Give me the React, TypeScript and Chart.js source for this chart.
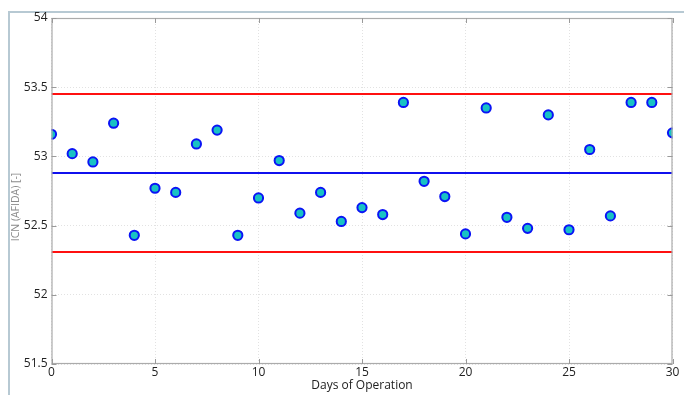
import React, { useEffect, useRef } from "react";
import { Chart, registerables } from "chart.js";

Chart.register(...registerables);

const days = [0, 1, 2, 3, 4, 5, 6, 7, 8, 9, 10, 11, 12, 13, 14, 15, 16, 17, 18, 19, 20, 21, 22, 23, 24, 25, 26, 27, 28, 29, 30];
const icnValues = [
  53.16, 53.02, 52.96, 53.24, 52.43, 52.77, 52.74, 53.09, 53.19, 52.43,
  52.70, 52.97, 52.59, 52.74, 52.53, 52.63, 52.58, 53.39, 52.82, 52.71,
  52.44, 53.35, 52.56, 52.48, 53.30, 52.47, 53.05, 52.57, 53.39, 53.39,
  53.17,
];
const upperLimit = 53.45;
const centerLine = 52.88;
const lowerLimit = 52.31;
const xRange = [0, 30];
const yRange = [51.5, 54];
const xTitle = "Days of Operation";
const yTitle = "ICN (AFIDA) [-]";

const framePlugin = {
  id: "frame",
  beforeDraw(chart: any) {
    const ctx = chart.ctx;
    ctx.save();
    ctx.strokeStyle = "#b7c9d3";
    ctx.lineWidth = 2;
    ctx.beginPath();
    ctx.moveTo(9, 395);
    ctx.lineTo(9, 12);
    ctx.lineTo(684, 12);
    ctx.stroke();
    ctx.restore();
  },
  afterDraw(chart: any) {
    const ctx = chart.ctx;
    const a = chart.chartArea;
    const xs = chart.scales.x;
    const ys = chart.scales.y;
    ctx.save();
    ctx.strokeStyle = "#ababab";
    ctx.lineWidth = 1.2;
    ctx.strokeRect(a.left + 0.5, a.top + 0.5, a.right - a.left - 1, a.bottom - a.top - 1);
    ctx.strokeStyle = "#9a9a9a";
    ctx.lineWidth = 1;
    ctx.beginPath();
    const tl = 5;
    xs.ticks.forEach((t: any) => {
      const px = Math.round(xs.getPixelForValue(t.value)) + 0.5;
      ctx.moveTo(px, a.bottom);
      ctx.lineTo(px, a.bottom - tl);
      ctx.moveTo(px, a.top);
      ctx.lineTo(px, a.top + tl);
    });
    ys.ticks.forEach((t: any) => {
      const py = Math.round(ys.getPixelForValue(t.value)) + 0.5;
      ctx.moveTo(a.left, py);
      ctx.lineTo(a.left + tl, py);
      ctx.moveTo(a.right, py);
      ctx.lineTo(a.right - tl, py);
    });
    ctx.stroke();
    // y-axis title
    ctx.translate(16, 207);
    ctx.rotate(-Math.PI / 2);
    ctx.fillStyle = "#8a8a8a";
    ctx.font = "10.5px 'Open Sans'";
    ctx.textAlign = "center";
    ctx.textBaseline = "middle";
    ctx.fillText(yTitle, 0, 0);
    ctx.restore();
  },
};

export default function App() {
  const ref = useRef<HTMLCanvasElement | null>(null);
  useEffect(() => {
    if (!ref.current) return;
    const pts = days.map((d, i) => ({ x: d, y: icnValues[i] }));
    const hline = (v: number) => [
      { x: xRange[0], y: v },
      { x: xRange[1], y: v },
    ];
    const chart = new Chart(ref.current, {
      type: "scatter",
      data: {
        datasets: [
          {
            label: "ICN",
            data: pts,
            pointRadius: 4.6,
            pointBorderWidth: 2,
            pointBackgroundColor: "#18c2c4",
            pointBorderColor: "#0a14f5",
            showLine: false,
          },
          {
            label: "UCL",
            data: hline(upperLimit),
            showLine: true,
            borderColor: "#ff1010",
            borderWidth: 2,
            pointRadius: 0,
          },
          {
            label: "CL",
            data: hline(centerLine),
            showLine: true,
            borderColor: "#1010ee",
            borderWidth: 2,
            pointRadius: 0,
          },
          {
            label: "LCL",
            data: hline(lowerLimit),
            showLine: true,
            borderColor: "#ff1010",
            borderWidth: 2,
            pointRadius: 0,
          },
        ],
      },
      options: {
        animation: false,
        responsive: false,
        maintainAspectRatio: false,
        layout: { padding: { left: 0, right: 11.5, top: 18, bottom: 0 } },
        plugins: { legend: { display: false }, tooltip: { enabled: false } },
        scales: {
          x: {
            type: "linear",
            min: xRange[0],
            max: xRange[1],
            ticks: {
              stepSize: 5,
              color: "#222",
              font: { family: "'Open Sans'", size: 12 },
              padding: 1,
              maxRotation: 0,
            },
            grid: { color: "#e2e2e2", drawTicks: false },
            border: { display: false, dash: [1, 2] },
            title: {
              display: true,
              text: xTitle,
              color: "#222",
              font: { family: "'Open Sans'", size: 12 },
              padding: { top: 0, bottom: 2 },
            },
            afterFit: (s: any) => {
              s.height = 31;
            },
          },
          y: {
            type: "linear",
            min: yRange[0],
            max: yRange[1],
            ticks: {
              stepSize: 0.5,
              color: "#222",
              font: { family: "'Open Sans'", size: 12 },
              padding: 4,
              callback: (v: any) => String(Number(v)),
            },
            grid: { color: "#e2e2e2", drawTicks: false },
            border: { display: false, dash: [1, 2] },
            afterFit: (s: any) => {
              s.width = 51.5;
            },
          },
        },
      },
      plugins: [framePlugin],
    });
    return () => chart.destroy();
  }, []);
  return (
    <div style={{ position: "fixed", left: 0, top: 0, width: 684, height: 395, background: "#fff" }}>
      <canvas ref={ref} width={684} height={395} style={{ width: 684, height: 395 }} />
    </div>
  );
}
